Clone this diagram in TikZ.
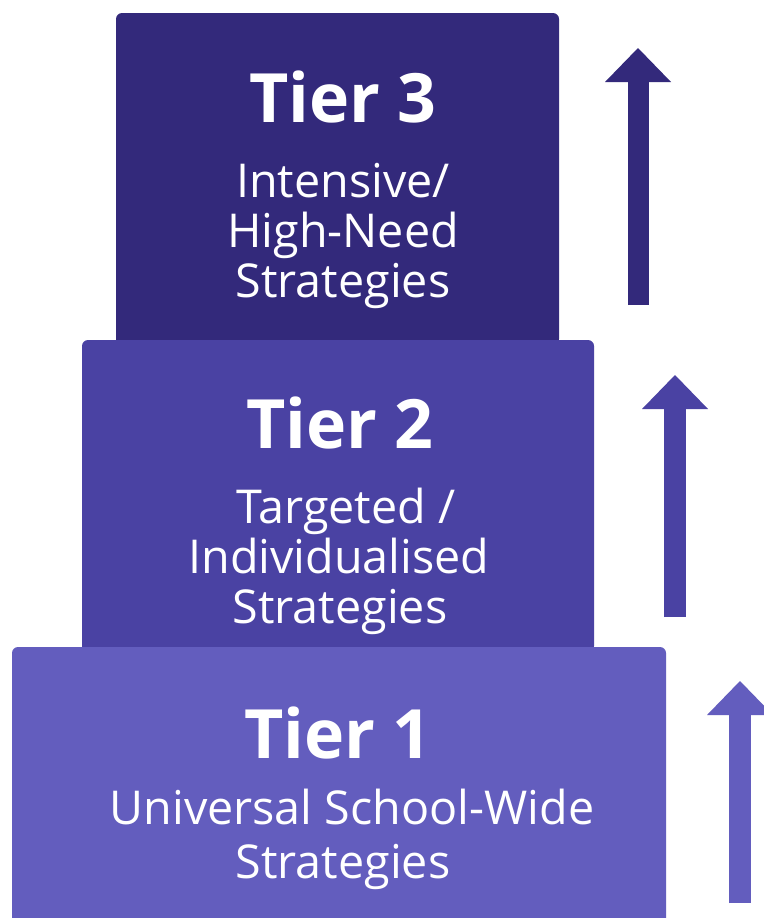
\documentclass[tikz,border=0pt]{standalone}
\usepackage{fontspec}
\setmainfont{Open Sans}
\usetikzlibrary{arrows.meta}
\definecolor{tthree}{HTML}{33297B}
\definecolor{ttwo}{HTML}{4A42A3}
\definecolor{tone}{HTML}{635DBE}
\begin{document}
\begin{tikzpicture}[x=0.75pt,y=-0.75pt,
  tierbox/.style={draw=none, rounded corners=4.5pt, inner sep=0pt},
  tiertitle/.style={text=white, anchor=base, inner sep=0pt, font=\fontsize{51}{51}\selectfont\bfseries},
  tiersub/.style={text=white, anchor=base, inner sep=0pt, font=\fontsize{35}{35}\selectfont},
  uparrow/.style={line width=15.75pt, -{Triangle[width=49.5pt,length=25.5pt,line width=0pt]}}]
\clip (0,0) rectangle (764,918);
\fill[white] (0,0) rectangle (764,918);
% boxes
\node[tierbox, fill=tthree, minimum width=332.25pt, minimum height=249pt] (box3) at (337.5,179) {};
\node[tierbox, fill=ttwo, minimum width=384pt, minimum height=234pt] (box2) at (338,496) {};
\node[tierbox, fill=tone, minimum width=490.5pt, minimum height=219.75pt] (box1) at (339,793.5) {};
% tier 3 text
\node[tiertitle] (t3title) at (343,122) {Tier 3};
\node[tiersub] (t3a) at (343,197) {Intensive/};
\node[tiersub] (t3b) at (343,247) {High-Need};
\node[tiersub] (t3c) at (343,297) {Strategies};
% tier 2 text
\node[tiertitle] (t2title) at (340,448) {Tier 2};
\node[tiersub] (t2a) at (346,523) {Targeted /};
\node[tiersub] (t2b) at (339,573) {Individualised};
\node[tiersub] (t2c) at (340,623) {Strategies};
% tier 1 text
\node[tiertitle] (t1title) at (338,758) {Tier 1};
\node[tiersub] (t1a) at (352,824) {Universal School-Wide};
\node[tiersub] (t1b) at (343,878) {Strategies};
% arrows
\coordinate (a3s) at (638,305);
\coordinate (a3e) at (638,48);
\coordinate (a2s) at (675,617);
\coordinate (a2e) at (675,375);
\coordinate (a1s) at (740,903);
\coordinate (a1e) at (740,681);
\draw[uparrow, tthree] (a3s) -- (a3e);
\draw[uparrow, ttwo, line width=16.5pt] (a2s) -- (a2e);
\draw[uparrow, tone, line width=16.5pt] (a1s) -- (a1e);
\end{tikzpicture}
\end{document}
